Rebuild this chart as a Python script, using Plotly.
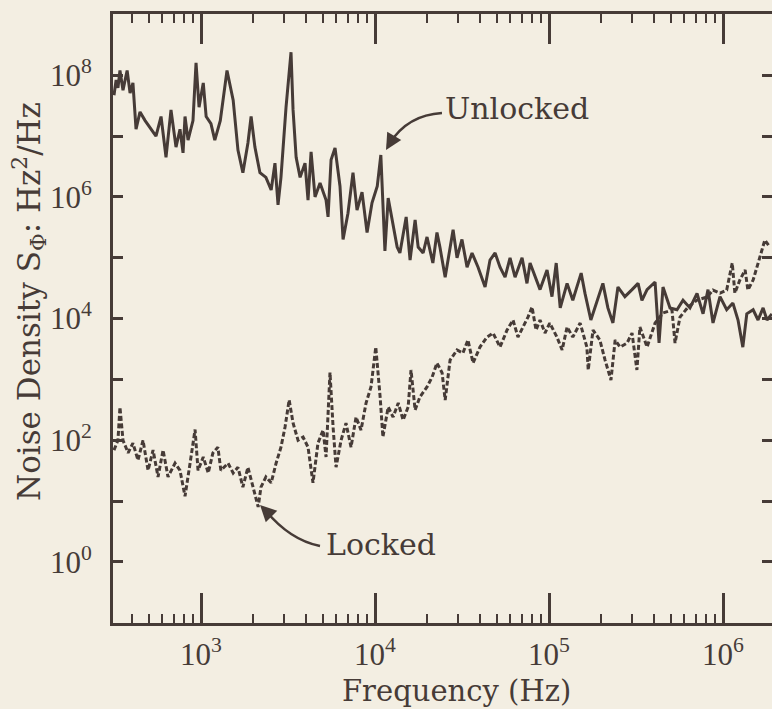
import plotly.graph_objects as go

# Unlocked phase noise (solid trace)
unlocked_freq = [316, 325, 333, 342, 356, 376, 391, 406, 423, 446, 477, 509, 551, 589, 629, 672, 718, 757,
                 788, 809, 842, 899, 936, 974, 1030, 1070, 1140, 1200, 1290, 1410, 1530, 1630, 1740, 1860,
                 1940, 2040, 2180, 2360, 2530, 2660, 2770, 2880, 3080, 3290, 3380, 3520, 3710, 3960, 4120,
                 4290, 4520, 4830, 5230, 5370, 5590, 5890, 6290, 6550, 6990, 7470, 7880, 8420, 9000, 9610,
                 10300, 10800, 11100, 11400, 11900, 12500, 13400, 13900, 15100, 15900, 17000, 17700, 18900,
                 19900, 21500, 22700, 23600, 25300, 28100, 29600, 31600, 33800, 36100, 39100, 42900, 45800,
                 49000, 52300, 55900, 59700, 63800, 70000, 74700, 77800, 83100, 88800, 97400, 104000, 110000,
                 116000, 127000, 137000, 153000, 161000, 174000, 184000, 204000, 218000, 233000, 249000,
                 273000, 300000, 325000, 342000, 366000, 407000, 429000, 452000, 496000, 544000, 589000,
                 646000, 709000, 768000, 820000, 876000, 961000, 1050000, 1140000, 1220000, 1300000,
                 1370000, 1490000, 1590000, 1700000, 1790000, 1910000]
unlocked_density = [4.7e7, 8.4e7, 6.2e7, 1.2e8, 5.7e7, 1.2e8, 5.1e7, 7.5e7, 1.3e7, 2.5e7, 1.8e7, 1.4e7, 1.0e7,
                    2.1e7, 4.5e6, 2.7e7, 6.6e6, 1.3e7, 5.3e6, 2.1e7, 8.6e6, 1.8e7, 1.6e8, 3.0e7, 7.5e7, 2.1e7,
                    1.6e7, 8.6e6, 1.8e7, 1.2e8, 3.9e7, 5.9e6, 2.5e6, 7.7e6, 2.1e7, 6.6e6, 2.5e6, 2.1e6, 1.3e6,
                    3.6e6, 7.4e5, 2.1e6, 3.0e7, 2.4e8, 2.7e7, 4.5e6, 2.1e6, 3.6e6, 8.9e5, 5.5e6, 1.0e6, 1.7e6,
                    8.9e5, 4.7e5, 4.1e6, 6.4e6, 1.5e6, 2.0e5, 5.4e5, 2.5e6, 6.1e5, 1.2e6, 2.6e5, 8.0e5, 1.5e6,
                    4.9e6, 5.4e5, 1.3e5, 9.6e5, 4.7e5, 1.5e5, 1.2e5, 4.7e5, 9.2e4, 4.2e5, 1.5e5, 1.2e5, 2.2e5,
                    8.2e4, 2.6e5, 1.5e5, 4.8e4, 2.9e5, 1.0e5, 2.0e5, 7.0e4, 1.2e5, 7.0e4, 3.3e4, 9.2e4, 1.2e5,
                    7.0e4, 4.8e4, 1.0e5, 4.8e4, 1.0e5, 3.8e4, 8.2e4, 4.8e4, 3.0e4, 6.3e4, 2.3e4, 8.2e4, 1.5e4,
                    3.8e4, 2.0e4, 5.6e4, 2.6e4, 9.5e3, 1.5e4, 3.8e4, 1.5e4, 8.5e3, 3.3e4, 2.3e4, 3.0e4, 3.8e4,
                    2.0e4, 3.0e4, 4.0e4, 4.0e3, 3.3e4, 1.5e4, 1.4e4, 2.0e4, 1.5e4, 2.6e4, 1.2e4, 3.0e4, 8.5e3,
                    2.3e4, 1.4e4, 1.8e4, 9.5e3, 3.4e3, 1.2e4, 1.4e4, 9.5e3, 1.5e4, 9.5e3, 1.2e4]

# Locked phase noise (dashed trace)
locked_freq = [316, 333, 342, 356, 381, 406, 434, 464, 496, 530, 566, 605, 646, 709, 757, 809, 865, 924, 961,
               1030, 1100, 1170, 1250, 1300, 1430, 1530, 1630, 1740, 1860, 1990, 2130, 2210, 2360, 2530, 2700,
               2880, 3040, 3210, 3380, 3610, 3860, 4120, 4400, 4700, 5030, 5230, 5510, 5740, 5970, 6380, 6810,
               7280, 7780, 8310, 8880, 9480, 10100, 10700, 11100, 11900, 12700, 13600, 14500, 15500, 16100,
               17000, 18100, 19900, 21300, 22700, 24300, 25300, 27000, 29600, 32000, 34200, 36600, 40100,
               44000, 47700, 52300, 57400, 62100, 66300, 70900, 75700, 79900, 84200, 88800, 94800, 101000,
               111000, 119000, 127000, 137000, 151000, 165000, 168000, 179000, 196000, 210000, 227000, 240000,
               256000, 281000, 300000, 320000, 333000, 366000, 407000, 452000, 509000, 530000, 566000, 630000,
               709000, 809000, 876000, 961000, 1050000, 1130000, 1170000, 1250000, 1340000, 1390000, 1490000,
               1630000, 1740000, 1860000]
locked_density = [69, 100, 350, 100, 62, 90, 47, 100, 32, 69, 25, 69, 25, 42, 32, 12, 42, 150, 32,
                  53, 29, 62, 77, 32, 42, 29, 36, 17, 36, 17, 8.0, 17, 25, 20, 42,
                  77, 165, 460, 192, 100, 113, 77, 20, 90, 147, 53, 1300, 165, 36, 100, 192,
                  77, 241, 147, 410, 752, 3410, 514, 113, 352, 241, 410, 215, 352, 1430,
                  314, 514, 752, 1100, 1860, 1280, 459, 2080, 3050, 2720, 4450, 1860, 3410,
                  4980, 5790, 3410, 6490, 9480, 4980, 7280, 10600, 15500, 6490, 9480, 5790, 8450,
                  4980, 3050, 7280, 4980, 8450, 3410, 1430, 6490, 4450, 2080, 980, 4450,
                  3410, 3970, 5790, 1430, 7280, 3410, 8450, 12400, 13800, 3970, 10600, 15500,
                  20200, 22600, 29500, 26300, 29500, 82000, 26300, 43200, 63000, 29500, 43200,
                  103000, 196000, 150000]

x_ticks = [1e3, 1e4, 1e5, 1e6]
x_labels = ["10<sup>3</sup>", "10<sup>4</sup>", "10<sup>5</sup>", "10<sup>6</sup>"]
y_ticks = [1e0, 1e1, 1e2, 1e3, 1e4, 1e5, 1e6, 1e7, 1e8, 1e9]
y_labels = ["10<sup>0</sup>", "", "10<sup>2</sup>", "", "10<sup>4</sup>", "", "10<sup>6</sup>", "",
            "10<sup>8</sup>", ""]
x_minor = [m * 10 ** k for k in range(2, 7) for m in range(2, 10)]

ink = "#463b37"
paper = "#f3eee2"
serif = "DejaVu Serif"

fig = go.Figure()
fig.add_trace(go.Scatter(x=unlocked_freq, y=unlocked_density, mode="lines",
                         line=dict(color=ink, width=3), showlegend=False))
fig.add_trace(go.Scatter(x=locked_freq, y=locked_density, mode="lines",
                         line=dict(color=ink, width=3, dash="5px,2.5px"), showlegend=False))
# invisible trace so the right-hand tick axis is drawn
fig.add_trace(go.Scatter(x=[None], y=[None], yaxis="y2", showlegend=False, hoverinfo="skip"))

axis_font = dict(family="Liberation Serif", size=31, color=ink)

fig.update_layout(
    width=772, height=709,
    margin=dict(l=113, r=0, t=14, b=86),
    paper_bgcolor=paper, plot_bgcolor=paper,
    xaxis=dict(type="log", range=[2.494, 6.2816], showgrid=False, zeroline=False,
               showline=True, linecolor=ink, linewidth=3, mirror="ticks",
               ticks="inside", ticklen=30, tickwidth=2.5, tickcolor=ink,
               tickmode="array", tickvals=x_ticks, ticktext=x_labels,
               tickfont=axis_font, ticklabelstandoff=2,
               minor=dict(ticks="inside", ticklen=9, tickwidth=2.2, tickcolor=ink,
                          tickmode="array", tickvals=x_minor, showgrid=False)),
    yaxis=dict(type="log", range=[-1.004, 9.008], showgrid=False, zeroline=False,
               showline=True, linecolor=ink, linewidth=3,
               ticks="inside", ticklen=10, tickwidth=2.5, tickcolor=ink,
               tickmode="array", tickvals=y_ticks, ticktext=y_labels,
               tickfont=axis_font, ticklabelstandoff=12),
    yaxis2=dict(type="log", range=[-1.004, 9.008], overlaying="y", side="right", anchor="x",
                showgrid=False, zeroline=False, showline=False, showticklabels=False,
                ticks="inside", ticklen=10, tickwidth=2.5, tickcolor=ink,
                tickmode="array", tickvals=y_ticks),
)

# curved pointer lines
fig.add_shape(type="path", xref="paper", yref="paper",
              path="M 0.4992 0.8374 Q 0.4476 0.8342 0.4203 0.7882",
              line=dict(color=ink, width=2.5))
fig.add_shape(type="path", xref="paper", yref="paper",
              path="M 0.3141 0.1264 Q 0.2686 0.1363 0.2322 0.1839",
              line=dict(color=ink, width=2.5))

fig.add_annotation(x=0.4143, y=0.7767, xref="paper", yref="paper", text="", showarrow=True,
                   ax=7, ay=-12, arrowhead=2, arrowsize=1.3, arrowwidth=2.5, arrowcolor=ink, standoff=0)
fig.add_annotation(x=0.2231, y=0.1938, xref="paper", yref="paper", text="", showarrow=True,
                   ax=9, ay=9, arrowhead=2, arrowsize=1.3, arrowwidth=2.5, arrowcolor=ink, standoff=0)

fig.add_annotation(x=0.5008, y=0.8456, xref="paper", yref="paper", text="Unlocked", showarrow=False,
                   xanchor="left", yanchor="middle", font=dict(family=serif, size=30, color=ink))
fig.add_annotation(x=0.3202, y=0.1281, xref="paper", yref="paper", text="Locked", showarrow=False,
                   xanchor="left", yanchor="middle", font=dict(family=serif, size=30, color=ink))

# axis titles
fig.add_annotation(x=0.522, y=-0.1117, xref="paper", yref="paper", text="Frequency (Hz)",
                   showarrow=False, xanchor="center", yanchor="middle",
                   font=dict(family=serif, size=29, color=ink))
fig.add_annotation(x=-0.1275, y=0.5287, xref="paper", yref="paper",
                   text="Noise Density S<sub>Φ</sub>: Hz<sup>2</sup>/Hz", textangle=-90,
                   showarrow=False, xanchor="center", yanchor="middle",
                   font=dict(family=serif, size=31, color=ink))

# drop the default page margin so the figure sits at the window corner
fig.write_html("out.html", config={"displayModeBar": False},
               post_script="document.body.style.margin='0px';")
